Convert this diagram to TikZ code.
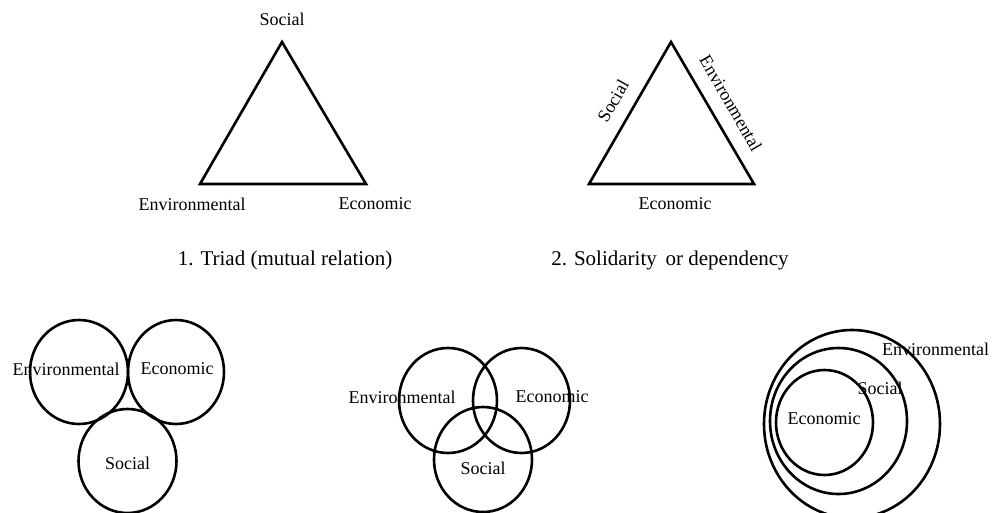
\documentclass[tikz,border=0pt]{standalone}
\usepackage{fontspec}
\setmainfont{Liberation Serif}
\begin{document}
\begin{tikzpicture}[x=1pt,y=-1pt,
  outline/.style={draw=black,line width=2.6pt,line join=miter},
  ring/.style={draw=black,line width=2.6pt},
  lbl/.style={font=\fontsize{18}{20}\selectfont,inner sep=0pt},
  caption/.style={font=\fontsize{21}{24}\selectfont,inner sep=0pt}]
\useasboundingbox (0,0) rectangle (994,512);

% 1. Triad
\coordinate (tA) at (282,42);
\coordinate (tB) at (200,184);
\coordinate (tC) at (366,184);
\draw[outline] (tA) -- (tB) -- (tC) -- cycle;
\node[lbl] (tSoc) at (282,19) {Social};
\node[lbl] (tEnv) at (192,204) {Environmental};
\node[lbl] (tEco) at (375,204) {Economic};
\node[caption] (cap1) at (285,260) {1. Triad (mutual relation)};

% 2. Solidarity or dependency
\coordinate (sA) at (671,42);
\coordinate (sB) at (589,184);
\coordinate (sC) at (754,184);
\draw[outline] (sA) -- (sB) -- (sC) -- cycle;
\node[lbl,rotate=60] (sSoc) at (613,101) {Social};
\node[lbl,rotate=-60] (sEnv) at (731,103) {Environmental};
\node[lbl] (sEco) at (675,204) {Economic};
\node[caption] (cap2) at (670,260) {2. Solidarity\, or dependency};

% Three touching circles
\draw[ring] (79,372) ellipse [x radius=49, y radius=52];
\draw[ring] (176,372) ellipse [x radius=48, y radius=52];
\draw[ring] (127.5,461) ellipse [x radius=49, y radius=52];
\node[lbl] (aEnv) at (66,369) {Environmental};
\node[lbl] (aEco) at (177,369) {Economic};
\node[lbl] (aSoc) at (127.5,463) {Social};

% Overlapping circles
\draw[ring] (448,400.5) ellipse [x radius=49, y radius=52.5];
\draw[ring] (521.5,400.5) ellipse [x radius=48.5, y radius=52.5];
\draw[ring] (483,459.5) ellipse [x radius=49, y radius=52.5];
\node[lbl] (bEnv) at (402,397) {Environmental};
\node[lbl] (bEco) at (552,397) {Economic};
\node[lbl] (bSoc) at (483,468) {Social};

% Nested circles
\draw[ring] (852,424) ellipse [x radius=88, y radius=94];
\draw[ring] (838.5,421) ellipse [x radius=68.5, y radius=73];
\draw[ring] (824.5,422.5) ellipse [x radius=48.5, y radius=52.5];
\node[lbl] (cEnv) at (935.5,349) {Environmental};
\node[lbl] (cSoc) at (880,388) {Social};
\node[lbl] (cEco) at (824,419) {Economic};
\end{tikzpicture}
\end{document}
